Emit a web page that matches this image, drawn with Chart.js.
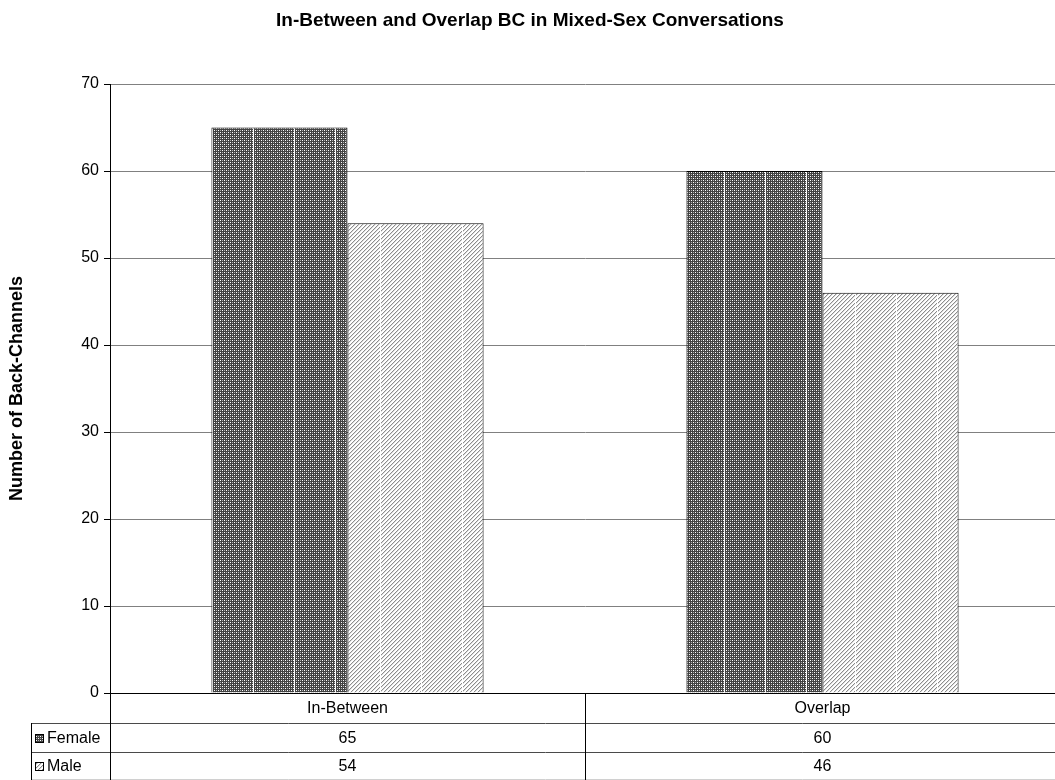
<!DOCTYPE html>
<html>
<head>
<meta charset="utf-8">
<script src="https://cdn.jsdelivr.net/npm/chart.js@4.4.0/dist/chart.umd.min.js"></script>
<style>
    html, body { margin: 0; padding: 0; background: #fff; overflow: hidden; }
    #wrap { width: 1055px; height: 780px; overflow: hidden; }
    #bc-chart { display: block; }
</style>
</head>
<body>
<div id="wrap"><canvas id="bc-chart" width="1060" height="780"></canvas></div>
<script>
// data
const categories = ['In-Between', 'Overlap'];
const seriesNames = ['Female', 'Male'];
const femaleValues = [65, 60];
const maleValues = [54, 46];
const yTickMin = 0;
const yTickMax = 70;
const yTickStep = 10;

const FONT = "'Liberation Sans', Arial, sans-serif";

// small 4x4 motifs, repeated into a 41px wide tile with a white seam column
function makeTile(kind, withSeam) {
    const w = withSeam ? 41 : 4, h = 4;
    const c = document.createElement('canvas');
    c.width = w; c.height = h;
    const g = c.getContext('2d');
    for (let x = 0; x < w; x++) {
        for (let y = 0; y < h; y++) {
            const px = x % 4, py = y % 4;
            let col;
            if (kind === 'female') {
                col = '#424242';
                if ((px === 0 && py === 0) || (px === 2 && py === 2)) col = '#ffffff';
                else if ((px === 2 && py === 0) || (px === 0 && py === 2)) col = '#b0b0b0';
            } else {
                col = '#ffffff';
                if ((px + py) % 4 === 3) col = '#8c8c8c';
                else if ((px + py) % 4 === 0) col = '#dedede';
            }
            g.fillStyle = col;
            g.fillRect(x, y, 1, 1);
        }
    }
    if (withSeam) {
        g.fillStyle = '#ffffff';
        g.fillRect(0, 0, 1, h);
    }
    return c;
}

const canvas = document.getElementById('bc-chart');
const ctx = canvas.getContext('2d');

function barPattern(kind, shift) {
    const p = ctx.createPattern(makeTile(kind, true), 'repeat');
    p.setTransform(new DOMMatrix().translateSelf(shift, 0));
    return p;
}

const femaleFills = [barPattern('female', 7), barPattern('female', 27)];
const maleFills = [barPattern('male', 11), barPattern('male', 35)];
const keyFills = [ctx.createPattern(makeTile('female', false), 'repeat'),
                  ctx.createPattern(makeTile('male', false), 'repeat')];

// data table under the plot (Excel style)
const dataTablePlugin = {
    id: 'dataTable',
    afterDraw(chart) {
        const c = chart.ctx;
        const xs = chart.scales.x;
        const left = chart.chartArea.left;
        const top = chart.chartArea.bottom;
        const rowTops = [top, top + 30, top + 59];
        const bottom = 780;
        const labelLeft = 31;
        const rows = [femaleValues, maleValues];

        c.save();
        // horizontal row lines
        c.strokeStyle = '#4a4a4a';
        c.lineWidth = 1;
        [rowTops[1], rowTops[2]].forEach(y => {
            c.beginPath();
            c.moveTo(labelLeft, y + 0.5);
            c.lineTo(chart.width, y + 0.5);
            c.stroke();
        });
        c.strokeStyle = '#d0d0d0';
        c.beginPath();
        c.moveTo(labelLeft, bottom - 0.5);
        c.lineTo(chart.width, bottom - 0.5);
        c.stroke();

        // vertical lines
        c.strokeStyle = '#000';
        c.beginPath();
        c.moveTo(labelLeft + 0.5, rowTops[1]);
        c.lineTo(labelLeft + 0.5, bottom);
        c.moveTo(left + 0.5, top);
        c.lineTo(left + 0.5, bottom);
        const catW = (xs.right - xs.left) / categories.length;
        for (let i = 1; i < categories.length; i++) {
            const x = Math.round(xs.left + catW * i) + 0.5;
            c.moveTo(x, top);
            c.lineTo(x, bottom);
        }
        c.stroke();

        // category labels and values
        c.fillStyle = '#000';
        c.font = '16px ' + FONT;
        c.textAlign = 'center';
        c.textBaseline = 'middle';
        categories.forEach((cat, i) => {
            const cx = xs.getPixelForValue(i);
            c.fillText(cat, cx, (rowTops[0] + rowTops[1]) / 2 + 1);
            rows.forEach((vals, r) => {
                const yTop = rowTops[r + 1];
                const yBot = r + 2 < rowTops.length ? rowTops[r + 2] : bottom;
                c.fillText(String(vals[i]), cx, (yTop + yBot) / 2 + 1);
            });
        });

        // series keys + names
        c.textAlign = 'left';
        seriesNames.forEach((name, r) => {
            const yTop = rowTops[r + 1];
            const yBot = r + 2 < rowTops.length ? rowTops[r + 2] : bottom;
            const ym = (yTop + yBot) / 2;
            c.fillStyle = keyFills[r];
            c.fillRect(35, Math.round(ym - 4), 9, 9);
            c.strokeStyle = '#000';
            c.strokeRect(35.5, Math.round(ym - 4) + 0.5, 8, 8);
            c.fillStyle = '#000';
            c.fillText(name, 47, ym + 1);
        });
        c.restore();
    }
};

new Chart(ctx, {
    type: 'bar',
    data: {
        labels: categories,
        datasets: [
            {
                label: seriesNames[0],
                data: femaleValues,
                backgroundColor: femaleFills,
                borderColor: '#000',
                borderWidth: 1,
                borderSkipped: 'bottom',
                categoryPercentage: 0.573,
                barPercentage: 1.0
            },
            {
                label: seriesNames[1],
                data: maleValues,
                backgroundColor: maleFills,
                borderColor: '#000',
                borderWidth: 1,
                borderSkipped: 'bottom',
                categoryPercentage: 0.573,
                barPercentage: 1.0
            }
        ]
    },
    options: {
        responsive: false,
        animation: false,
        layout: { padding: 0 },
        plugins: {
            legend: { display: false },
            tooltip: { enabled: false },
            title: {
                display: true,
                text: 'In-Between and Overlap BC in Mixed-Sex Conversations',
                color: '#000',
                font: { family: FONT, size: 19, weight: 'bold' },
                padding: { top: 9, bottom: 52.2 }
            }
        },
        scales: {
            x: {
                ticks: { display: false },
                grid: { display: false },
                border: { color: '#000', width: 1 },
                afterFit: (s) => { s.height = 87; }
            },
            y: {
                min: yTickMin,
                max: yTickMax,
                ticks: {
                    stepSize: yTickStep,
                    color: '#000',
                    padding: 5,
                    font: { family: FONT, size: 16 }
                },
                grid: {
                    color: '#808080',
                    lineWidth: 1,
                    tickColor: '#000',
                    tickLength: 6
                },
                border: { color: '#000', width: 1 },
                title: {
                    display: true,
                    text: 'Number of Back-Channels',
                    color: '#000',
                    font: { family: FONT, size: 18, weight: 'bold' },
                    padding: { top: 6, bottom: 0 }
                },
                afterFit: (s) => { s.width = 110; }
            }
        }
    },
    plugins: [dataTablePlugin]
});
</script>
</body>
</html>
